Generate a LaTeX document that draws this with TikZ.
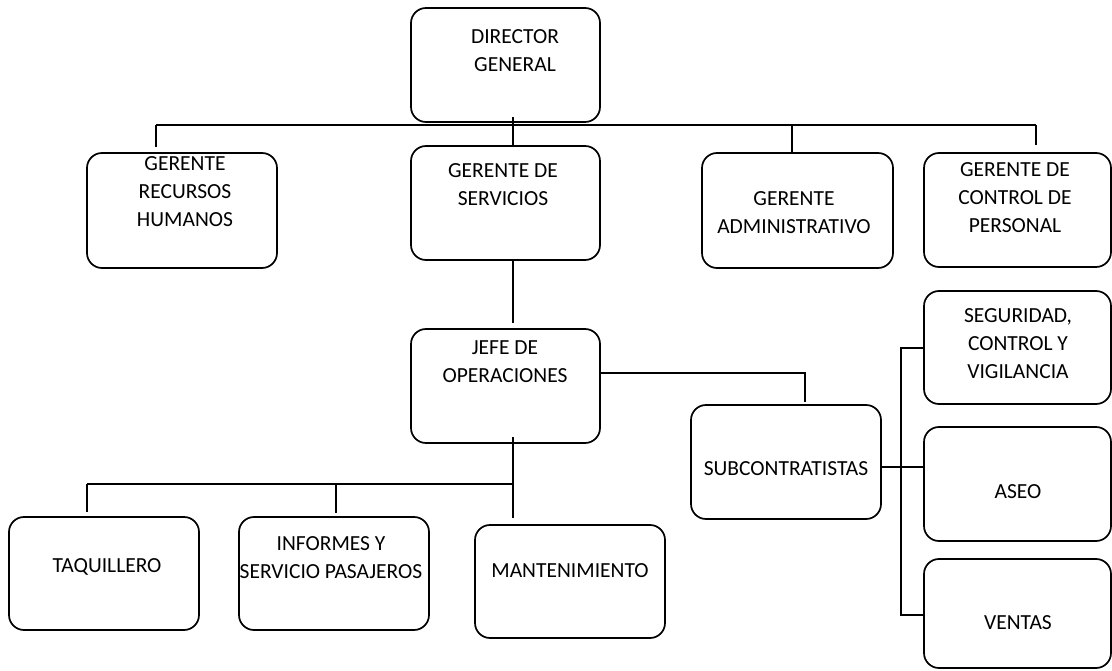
\documentclass[tikz,border=0pt]{standalone}
\usepackage{fontspec}
\setmainfont{Carlito}
\newcommand\orgbox[5]{\node[box,minimum width={#4-#2},minimum height={#5-#3}] (#1) at ({(#2+#4)/2},{(#3+#5)/2}) {};}
\begin{document}
\begin{tikzpicture}[x=1pt,y=-1pt,
  box/.style={draw,line width=1.7pt,rounded corners=15pt,rectangle,inner sep=0pt,fill=white},
  lbl/.style={anchor=north,inner sep=0pt,align=center,font=\fontsize{21.5}{28}\selectfont},
  wire/.style={line width=1.5pt}]
\useasboundingbox (0,0) rectangle (1112,671);
% boxes
\orgbox{dir}{411}{8}{600}{122}
\orgbox{rh}{87}{153}{277}{268}
\orgbox{serv}{411}{146}{600}{260}
\orgbox{adm}{702}{153}{893}{268}
\orgbox{ctl}{924}{153}{1111}{267}
\orgbox{jefe}{411}{329}{600}{443}
\orgbox{sub}{691}{405}{881}{519}
\orgbox{seg}{924}{291}{1111}{404}
\orgbox{aseo}{924}{427}{1111}{541}
\orgbox{ven}{924}{559}{1111}{668}
\orgbox{taq}{9}{517}{199}{630}
\orgbox{inf}{239}{517}{429}{630}
\orgbox{mant}{475}{525}{665}{638}
% labels
\node[lbl] (tdir) at (515,29.1) {DIRECTOR\\GENERAL};
\node[lbl] (trh) at (185,156.1) {GERENTE\\RECURSOS\\HUMANOS};
\node[lbl] (tserv) at (503,163.1) {GERENTE DE\\SERVICIOS};
\node[lbl] (tadm) at (794,191.1) {GERENTE\\ADMINISTRATIVO};
\node[lbl] (tctl) at (1015,162.1) {GERENTE DE\\CONTROL DE\\PERSONAL};
\node[lbl] (tjefe) at (505,340.1) {JEFE DE\\OPERACIONES};
\node[lbl] (tsub) at (786,461.1) {SUBCONTRATISTAS};
\node[lbl] (tseg) at (1018,308.1) {SEGURIDAD,\\CONTROL Y\\VIGILANCIA};
\node[lbl] (taseo) at (1018,484.1) {ASEO};
\node[lbl] (tven) at (1018,615.1) {VENTAS};
\node[lbl] (ttaq) at (107,558.1) {TAQUILLERO};
\node[lbl] (tinf) at (331,536.1) {INFORMES Y\\SERVICIO PASAJEROS};
\node[lbl] (tmant) at (570,563.1) {MANTENIMIENTO};
% junction coordinates
\coordinate (d0) at (513,117);
\coordinate (b1L) at (156,125);
\coordinate (b1M) at (513,125);
\coordinate (b1A) at (792,125);
\coordinate (b1R) at (1036,125);
\coordinate (rhT) at (156,147);
\coordinate (servT) at (513,146);
\coordinate (admT) at (792,153);
\coordinate (ctlT) at (1036,145);
\coordinate (servB) at (513,260);
\coordinate (jefeT) at (513,323);
\coordinate (jR) at (600,373);
\coordinate (jC) at (805,373);
\coordinate (subT) at (805,402);
\coordinate (jB) at (513,437);
\coordinate (b2M) at (513,484);
\coordinate (b2L) at (87,484);
\coordinate (b2I) at (336,484);
\coordinate (mantT) at (513,518);
\coordinate (taqT) at (87,512);
\coordinate (infT) at (336,513);
\coordinate (sR) at (881,467);
\coordinate (vT) at (901,348);
\coordinate (vM) at (901,467);
\coordinate (vB) at (901,615);
\coordinate (segL) at (924,348);
\coordinate (aseoL) at (924,467);
\coordinate (venL) at (924,615);
% connectors
\draw[wire] (b1L) -- (b1R);
\draw[wire] (b1L) -- (rhT);
\draw[wire] (d0) -- (servT);
\draw[wire] (b1A) -- (admT);
\draw[wire] (b1R) -- (ctlT);
\draw[wire] (servB) -- (jefeT);
\draw[wire] (jR) -- (jC) -- (subT);
\draw[wire] (jB) -- (mantT);
\draw[wire] (b2L) -- (b2M);
\draw[wire] (b2L) -- (taqT);
\draw[wire] (b2I) -- (infT);
\draw[wire] (sR) -- (aseoL);
\draw[wire] (segL) -- (vT) -- (vB) -- (venL);
\end{tikzpicture}
\end{document}
